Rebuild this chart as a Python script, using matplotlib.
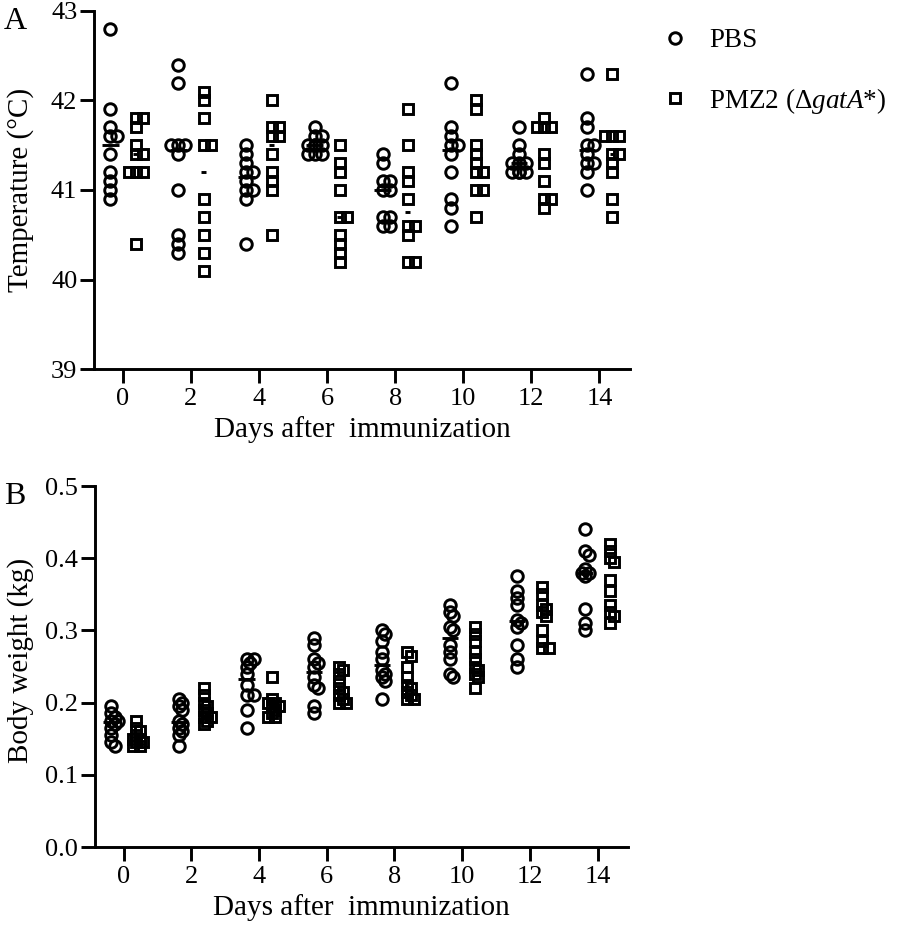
import numpy as np
import matplotlib
matplotlib.use("Agg")
import matplotlib.pyplot as plt
from matplotlib.lines import Line2D

plt.rcParams['font.family'] = ['Liberation Serif', 'DejaVu Serif']
plt.rcParams['mathtext.fontset'] = 'custom'
plt.rcParams['mathtext.rm'] = 'Liberation Serif'
plt.rcParams['mathtext.it'] = 'Liberation Serif:italic'

# ---------------- data ----------------
days = [0, 2, 4, 6, 8, 10, 12, 14]
day_ticks = ["0", "2", "4", "6", "8", "10", "12", "14"]
groups = ["PBS", "PMZ2 (Δ$\\mathit{gatA}$*)"]

temp_pbs = [
    [42.8, 41.9, 41.7, 41.6, 41.6, 41.4, 41.2, 41.1, 41.0, 40.9],
    [42.4, 42.2, 41.5, 41.5, 41.5, 41.4, 41.0, 40.5, 40.4, 40.3],
    [41.5, 41.4, 41.3, 41.2, 41.2, 41.1, 41.0, 41.0, 40.9, 40.4],
    [41.7, 41.6, 41.6, 41.5, 41.5, 41.5, 41.5, 41.4, 41.4, 41.4],
    [41.4, 41.3, 41.1, 41.1, 41.0, 41.0, 40.7, 40.7, 40.6, 40.6],
    [42.2, 41.7, 41.6, 41.5, 41.5, 41.4, 41.2, 40.9, 40.8, 40.6],
    [41.7, 41.5, 41.4, 41.3, 41.3, 41.3, 41.2, 41.2, 41.2, 41.2],
    [42.3, 41.8, 41.7, 41.5, 41.5, 41.4, 41.3, 41.3, 41.2, 41.0],
]
temp_pmz2 = [
    [41.8, 41.8, 41.7, 41.5, 41.4, 41.4, 41.2, 41.2, 41.2, 40.4],
    [42.1, 42.0, 41.8, 41.5, 41.5, 40.9, 40.7, 40.5, 40.3, 40.1],
    [42.0, 41.7, 41.7, 41.6, 41.6, 41.4, 41.2, 41.1, 41.0, 40.5],
    [41.5, 41.3, 41.2, 41.0, 40.7, 40.7, 40.5, 40.4, 40.3, 40.2],
    [41.9, 41.5, 41.2, 41.1, 40.9, 40.6, 40.6, 40.5, 40.2, 40.2],
    [42.0, 41.9, 41.5, 41.4, 41.3, 41.2, 41.2, 41.0, 41.0, 40.7],
    [41.8, 41.7, 41.7, 41.7, 41.4, 41.3, 41.1, 40.9, 40.9, 40.8],
    [42.3, 41.6, 41.6, 41.6, 41.4, 41.4, 41.3, 41.2, 40.9, 40.7],
]
weight_pbs = [
    [0.195, 0.185, 0.18, 0.175, 0.175, 0.17, 0.165, 0.155, 0.145, 0.14],
    [0.205, 0.20, 0.195, 0.19, 0.175, 0.17, 0.165, 0.16, 0.155, 0.14],
    [0.26, 0.26, 0.255, 0.25, 0.24, 0.225, 0.21, 0.21, 0.19, 0.165],
    [0.29, 0.28, 0.26, 0.255, 0.25, 0.235, 0.225, 0.22, 0.195, 0.185],
    [0.30, 0.295, 0.285, 0.27, 0.26, 0.245, 0.24, 0.235, 0.23, 0.205],
    [0.335, 0.325, 0.32, 0.305, 0.30, 0.28, 0.27, 0.26, 0.24, 0.235],
    [0.375, 0.355, 0.345, 0.335, 0.315, 0.31, 0.305, 0.28, 0.26, 0.25],
    [0.44, 0.41, 0.405, 0.385, 0.38, 0.38, 0.375, 0.33, 0.31, 0.30],
]
weight_pmz2 = [
    [0.175, 0.165, 0.16, 0.155, 0.15, 0.15, 0.145, 0.145, 0.14, 0.14],
    [0.22, 0.21, 0.20, 0.195, 0.19, 0.185, 0.18, 0.18, 0.175, 0.17],
    [0.235, 0.205, 0.20, 0.20, 0.195, 0.195, 0.19, 0.185, 0.18, 0.18],
    [0.25, 0.245, 0.24, 0.23, 0.22, 0.215, 0.21, 0.205, 0.20, 0.20],
    [0.27, 0.265, 0.25, 0.235, 0.225, 0.22, 0.215, 0.21, 0.205, 0.205],
    [0.305, 0.295, 0.285, 0.27, 0.26, 0.25, 0.245, 0.24, 0.235, 0.22],
    [0.36, 0.35, 0.335, 0.33, 0.325, 0.32, 0.30, 0.285, 0.275, 0.275],
    [0.42, 0.41, 0.40, 0.395, 0.37, 0.355, 0.335, 0.325, 0.32, 0.31],
]

# ---------------- layout ----------------
W, H = 902, 930
fig = plt.figure(figsize=(W / 100, H / 100), dpi=100)
axA = fig.add_axes([94 / W, 1 - 369 / H, (630 - 94) / W, (369 - 11) / H])
axB = fig.add_axes([95 / W, 1 - 847 / H, (628 - 95) / W, (847 - 486) / H])

XLIM = (-0.85, 14.9)
OFFSET = 0.37
LW = 2.1
MS = 8.3


def swarm(vals, center, xpx, ypx, step=3.5, min_dist=4.0):
    vals = np.asarray(vals, dtype=float)
    xs = np.empty(len(vals))
    placed = []
    for i in np.argsort(-vals, kind="stable"):
        py = vals[i] * ypx
        chosen = 0.0
        for k in [0, 1, -1, 2, -2]:
            px = k * step
            if all((px - qx) ** 2 + (py - qy) ** 2 >= min_dist ** 2 for qx, qy in placed):
                chosen = px
                break
        placed.append((chosen, py))
        xs[i] = center + chosen / xpx
    return xs


def draw_panel(ax, pbs, pmz, ylim, yticks, yfmt, ylabel, letter, ylabel_y):
    ax.set_xlim(*XLIM)
    ax.set_ylim(*ylim)
    bb = ax.get_position()
    xpx = bb.width * W / (XLIM[1] - XLIM[0])
    ypx = bb.height * H / (ylim[1] - ylim[0])
    for d, vp, vm in zip(days, pbs, pmz):
        xp = swarm(vp, d - OFFSET, xpx, ypx)
        xm = swarm(vm, d + OFFSET, xpx, ypx)
        ax.plot(xp, vp, ls="none", marker="o", ms=MS, mfc="none", mec="black",
                mew=LW, clip_on=False, zorder=3)
        ax.plot(xm, vm, ls="none", marker="s", ms=MS - 0.6, mfc="none", mec="black",
                mew=LW, clip_on=False, zorder=3)
        ax.plot([d - OFFSET - 0.24, d - OFFSET + 0.24], [np.median(vp)] * 2,
                color="black", lw=LW, solid_capstyle="butt", zorder=2)
        ax.plot([d + OFFSET - 0.07, d + OFFSET + 0.07], [np.median(vm)] * 2,
                color="black", lw=LW, solid_capstyle="butt", zorder=2)
    for s in ["top", "right"]:
        ax.spines[s].set_visible(False)
    for s in ["left", "bottom"]:
        ax.spines[s].set_linewidth(LW)
    ax.set_xticks(days)
    ax.set_xticklabels(day_ticks)
    ax.set_yticks(yticks)
    ax.set_yticklabels([yfmt.format(v) for v in yticks])
    ax.tick_params(axis="both", length=10, width=LW, labelsize=19, color="black")
    ax.tick_params(axis="x", pad=4)
    ax.tick_params(axis="y", pad=2)
    ax.set_xlabel("Days after  immunization", fontsize=21, labelpad=4)
    bb = ax.get_position()
    fig.text(21 / W, ylabel_y, ylabel, rotation=90, ha="center", va="center", fontsize=21)
    fig.text(4 / W, bb.y1 + 4 / H, letter, ha="left", va="top", fontsize=23)


draw_panel(axA, temp_pbs, temp_pmz2, (39, 43), [39, 40, 41, 42, 43], "{:.0f}",
           "Temperature (°C)", "A", 1 - 190 / H)
draw_panel(axB, weight_pbs, weight_pmz2, (0.0, 0.5), [0.0, 0.1, 0.2, 0.3, 0.4, 0.5], "{:.1f}",
           "Body weight (kg)", "B", 1 - 660 / H)

handles = [
    Line2D([], [], ls="none", marker="o", ms=MS, mfc="none", mec="black", mew=LW),
    Line2D([], [], ls="none", marker="s", ms=MS - 0.6, mfc="none", mec="black", mew=LW),
]
fig.legend(handles, groups, loc="upper left", bbox_to_anchor=(663 / W, 1 - 28 / H),
           frameon=False, fontsize=19.5, handlelength=0.9, handletextpad=0.8,
           labelspacing=1.2, borderaxespad=0, borderpad=0)

fig.savefig("out.png", dpi=100)
